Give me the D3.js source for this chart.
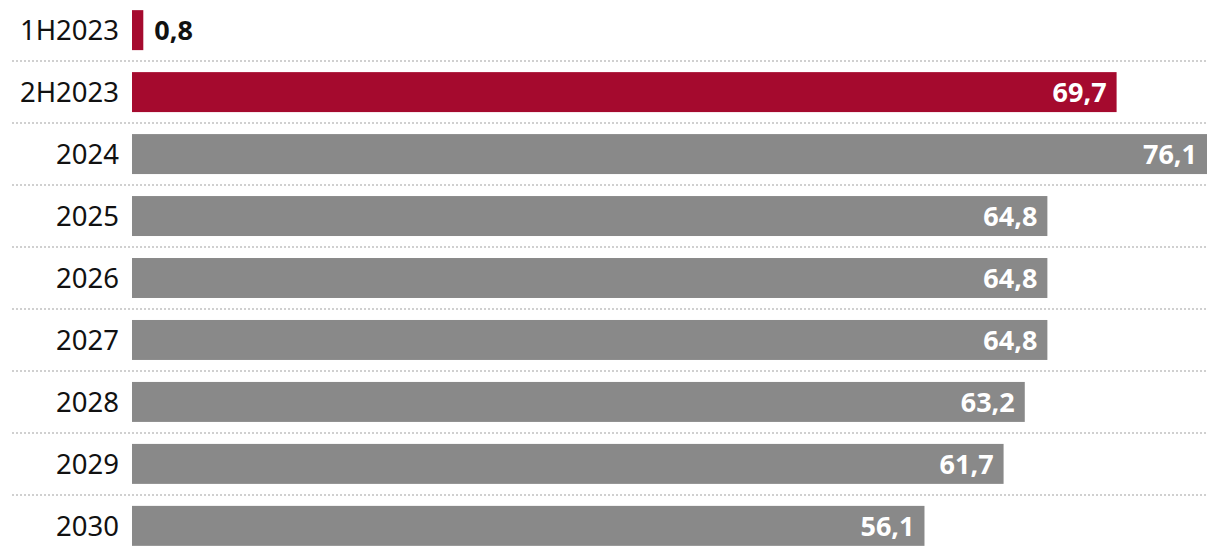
<!DOCTYPE html>
<html>
<head>
<meta charset="utf-8">
<script src="https://cdn.jsdelivr.net/npm/d3@7"></script>
<style>
  body { margin: 0; background: #fff; }
  svg { display: block; font-family: "Noto Sans", "Open Sans", sans-serif; }
</style>
</head>
<body>
<div id="chart"></div>
<script>
// chart data
var categories = ["1H2023", "2H2023", "2024", "2025", "2026", "2027", "2028", "2029", "2030"];
var values = [0.8, 69.7, 76.1, 64.8, 64.8, 64.8, 63.2, 61.7, 56.1];
var highlighted = ["1H2023", "2H2023"];

var width = 1220, height = 556;
var left = 132, right = 1207;

var svg = d3.select("#chart").append("svg")
    .attr("width", width)
    .attr("height", height);

var x = d3.scaleLinear()
    .domain([0, d3.max(values)])
    .range([left, right]);

var y = d3.scaleBand()
    .domain(categories)
    .range([-1, 557])
    .paddingInner(0.355)
    .paddingOuter(0.18);

var rows = categories.map(function(c, i){ return {name: c, value: values[i]}; });

/* dotted separators between rows */
svg.selectAll("line.sep")
    .data(categories.slice(1))
    .enter()
    .append("line")
    .attr("class", "sep")
    .attr("x1", 12)
    .attr("x2", 1208)
    .attr("y1", function(d){ return y(d) - 11; })
    .attr("y2", function(d){ return y(d) - 11; })
    .attr("stroke", "#d0d0d0")
    .attr("stroke-width", 2)
    .attr("stroke-dasharray", "2,2");

/* bars */
svg.selectAll("rect.bar")
    .data(rows)
    .enter()
    .append("rect")
    .attr("class", "bar")
    .attr("x", x(0))
    .attr("y", function(d){ return y(d.name); })
    .attr("width", function(d){ return x(d.value) - x(0); })
    .attr("height", y.bandwidth())
    .attr("fill", function(d){ return highlighted.indexOf(d.name) != -1 ? "#a50a2e" : "#898989"; });

/* category labels */
svg.selectAll("text.cat")
    .data(rows)
    .enter()
    .append("text")
    .attr("class", "cat")
    .attr("x", 119)
    .attr("y", function(d){ return y(d.name) + y.bandwidth() / 2; })
    .attr("dy", "0.36em")
    .attr("text-anchor", "end")
    .attr("font-size", 27.5)
    .attr("fill", "#111")
    .text(function(d){ return d.name; });

/* value labels, inside the bar when it is wide enough */
function fmt(v){ return v.toFixed(1).replace(".", ","); }
svg.selectAll("text.val")
    .data(rows)
    .enter()
    .append("text")
    .attr("class", "val")
    .attr("x", function(d){
        var w = x(d.value) - x(0);
        return w > 80 ? x(d.value) - 10 : x(d.value) + 11;
    })
    .attr("y", function(d){ return y(d.name) + y.bandwidth() / 2; })
    .attr("dy", "0.36em")
    .attr("text-anchor", function(d){ return (x(d.value) - x(0)) > 80 ? "end" : "start"; })
    .attr("font-size", 27)
    .attr("font-weight", "bold")
    .attr("fill", function(d){ return (x(d.value) - x(0)) > 80 ? "#fff" : "#111"; })
    .text(function(d){ return fmt(d.value); });
</script>
</body>
</html>
